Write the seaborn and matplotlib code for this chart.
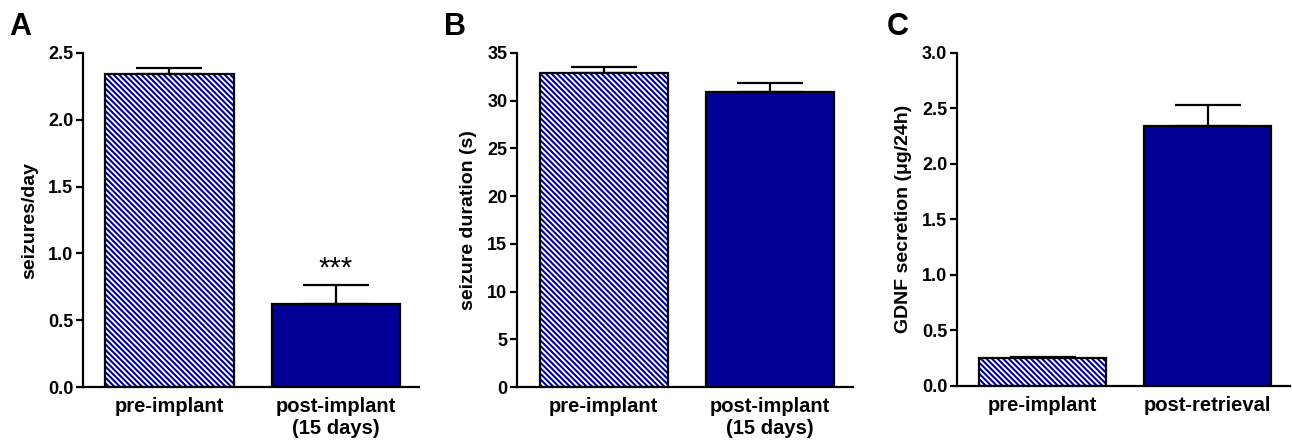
import numpy as np
import pandas as pd
import matplotlib
matplotlib.use("Agg")
import matplotlib.pyplot as plt
from matplotlib.patches import Rectangle
import seaborn as sns

# --- data
groups_ab = ["pre-implant", "post-implant\n(15 days)"]
groups_c = ["pre-implant", "post-retrieval"]

seizures_per_day = [2.34, 0.62]
seizures_per_day_sem = [0.05, 0.14]

seizure_duration = [32.9, 30.9]
seizure_duration_sem = [0.6, 0.95]

gdnf_secretion = [0.255, 2.34]
gdnf_secretion_sem = [0.005, 0.19]

NAVY = "#000096"

sns.set_theme(style="ticks")
plt.rcParams["font.family"] = ["Liberation Sans", "DejaVu Sans"]
plt.rcParams.update({
    "hatch.linewidth": 1.5,
    "axes.linewidth": 1.6,
    "text.color": "black",
    "axes.labelcolor": "black",
    "xtick.color": "black",
    "ytick.color": "black",
    "axes.edgecolor": "black",
})


def bar_panel(ax, groups, values, sem, ylabel, ymax, ystep, letter, stars=None):
    df = pd.DataFrame({"group": groups, "value": values})
    sns.barplot(data=df, x="group", y="value", ax=ax, width=0.77,
                palette=["white", NAVY], hue="group", legend=False, saturation=1,
                edgecolor=NAVY, linewidth=0, zorder=2)

    # hatch the first (pre-implant) bar, outline both in black
    for i, p in enumerate(ax.patches):
        if i == 0:
            p.set_hatch("\\" * 6)
            p.set_edgecolor(NAVY)
        ax.add_patch(Rectangle((p.get_x(), p.get_y()), p.get_width(), p.get_height(),
                               fill=False, edgecolor="black", linewidth=1.6, zorder=3))

    x = np.arange(len(groups))
    ax.errorbar(x, values, yerr=[np.zeros(len(sem)), sem], fmt="none",
                ecolor="black", elinewidth=1.6, capsize=23.5, capthick=1.6, zorder=1)

    if stars is not None:
        ax.text(1, values[1] + sem[1] + ymax * 0.01, stars, ha="center", va="bottom",
                fontsize=21)

    ax.set_xlim(-0.52, 1.5)
    ax.set_ylim(0, ymax)
    ax.set_yticks(np.arange(0, ymax + ystep / 2, ystep))
    if ystep < 1:
        ax.set_yticklabels([f"{t:.1f}" for t in ax.get_yticks()])
    ax.set_xlabel("")
    ax.set_ylabel(ylabel, fontsize=14, fontweight="bold", labelpad=7)
    ax.tick_params(axis="y", labelsize=13, length=5, width=1.6, pad=2)
    ax.tick_params(axis="x", labelsize=14.5, length=0, pad=7)
    for lab in ax.get_xticklabels() + ax.get_yticklabels():
        lab.set_fontweight("bold")
    sns.despine(ax=ax)
    ax.figure.text(letter[1], 0.921, letter[0], fontsize=22, fontweight="bold",
                   ha="left", va="baseline")


fig = plt.figure(figsize=(12.92, 4.45), dpi=100)
ax_a = fig.add_axes([0.0642, 0.1303, 0.2601, 0.7506])
ax_b = fig.add_axes([0.4002, 0.1303, 0.2601, 0.7506])
ax_c = fig.add_axes([0.7407, 0.1326, 0.2577, 0.7490])

bar_panel(ax_a, groups_ab, seizures_per_day, seizures_per_day_sem,
          "seizures/day", 2.5, 0.5, ("A", 0.007), stars="***")
bar_panel(ax_b, groups_ab, seizure_duration, seizure_duration_sem,
          "seizure duration (s)", 35, 5, ("B", 0.344))
bar_panel(ax_c, groups_c, gdnf_secretion, gdnf_secretion_sem,
          "GDNF secretion (\u03bcg/24h)", 3.0, 0.5, ("C", 0.686))

fig.savefig("out.png", dpi=100, facecolor="white")
